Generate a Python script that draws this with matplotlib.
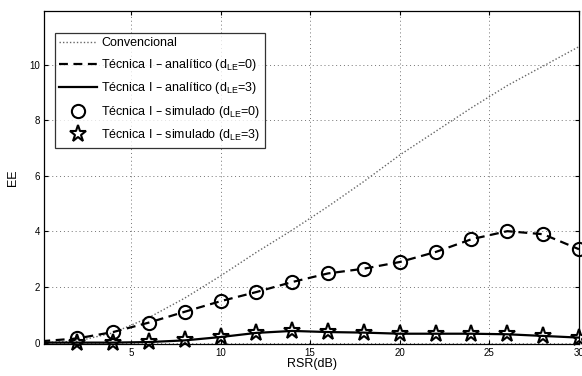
import matplotlib
matplotlib.use("Agg")
import matplotlib.pyplot as plt
from matplotlib.lines import Line2D

plt.rcParams['font.family'] = ['Liberation Sans', 'DejaVu Sans']

# data
rsr_line = [0, 2, 4, 6, 8, 10, 12, 14, 16, 18, 20, 22, 24, 26, 28, 30]
conv = [0.0, 0.05, 0.35, 0.9, 1.6, 2.4, 3.25, 4.05, 4.9, 5.8, 6.75, 7.6, 8.45, 9.25, 9.95, 10.65]
anal_d0 = [0.05, 0.15, 0.38, 0.72, 1.11, 1.49, 1.82, 2.18, 2.49, 2.66, 2.9, 3.26, 3.72, 4.01, 3.9, 3.36]
anal_d3 = [0.0, 0.0, 0.0, 0.02, 0.08, 0.2, 0.35, 0.42, 0.38, 0.36, 0.32, 0.32, 0.32, 0.3, 0.24, 0.18]
rsr_sim = [2, 4, 6, 8, 10, 12, 14, 16, 18, 20, 22, 24, 26, 28, 30]
sim_d0 = [0.15, 0.38, 0.72, 1.11, 1.49, 1.82, 2.18, 2.49, 2.66, 2.9, 3.26, 3.72, 4.01, 3.9, 3.36]
sim_d3 = [0.0, 0.0, 0.02, 0.08, 0.2, 0.35, 0.42, 0.38, 0.36, 0.32, 0.32, 0.32, 0.3, 0.24, 0.18]

labels = ['Convencional',
          'Técnica I – analítico (d$_{\\mathregular{LE}}$=0)',
          'Técnica I – analítico (d$_{\\mathregular{LE}}$=3)',
          'Técnica I – simulado (d$_{\\mathregular{LE}}$=0)',
          'Técnica I – simulado (d$_{\\mathregular{LE}}$=3)']

fig = plt.figure(figsize=(5.82, 3.76), dpi=100)
ax = fig.add_axes([44/582, 1 - 344/376, (579 - 44)/582, (344 - 10.5)/376])

ax.plot(rsr_line, conv, linestyle=(0, (1, 1.5)), color='0.4', lw=1.0)
ax.plot(rsr_line, anal_d0, linestyle=(0, (4, 2.5)), color='black', lw=1.6)
ax.plot(rsr_line, anal_d3, linestyle='-', color='black', lw=1.6)
ax.plot(rsr_sim, sim_d0, linestyle='none', marker='o', ms=9.5, mfc='none', mec='black', mew=1.5, clip_on=False)
ax.plot(rsr_sim, sim_d3, linestyle='none', marker='*', ms=12.5, mfc='none', mec='black', mew=1.5, clip_on=False)

ax.set_xlim(0.15, 30)
ax.set_ylim(-0.05, 11.95)
ax.set_xticks([5, 10, 15, 20, 25, 30])
ax.set_yticks([0, 2, 4, 6, 8, 10])
ax.tick_params(direction='in', top=True, right=True, labelsize=7, length=3, width=0.8, pad=3)
ax.grid(True, linestyle=(0, (1, 3)), color='0.45', lw=0.7)
for s in ax.spines.values():
    s.set_linewidth(0.9)

ax.set_xlabel('RSR(dB)', fontsize=9, labelpad=0)
ax.set_ylabel('EE', fontsize=9, labelpad=7)

handles = [
    Line2D([], [], linestyle=(0, (1, 1.5)), color='0.4', lw=1.0),
    Line2D([], [], linestyle=(0, (4, 2.5)), color='black', lw=1.6),
    Line2D([], [], linestyle='-', color='black', lw=1.6),
    Line2D([], [], linestyle='none', marker='o', ms=9.5, mfc='none', mec='black', mew=1.5),
    Line2D([], [], linestyle='none', marker='*', ms=12.5, mfc='none', mec='black', mew=1.5),
]
leg = ax.legend(handles, labels, loc='upper left', bbox_to_anchor=(11/535, 1 - 22.5/333.5),
                fontsize=9, frameon=True, fancybox=False, edgecolor='black',
                handlelength=3.0, handletextpad=0.35, borderpad=0.35, labelspacing=0.6,
                borderaxespad=0)
leg.get_frame().set_linewidth(0.9)

fig.savefig('out.png', dpi=100)
